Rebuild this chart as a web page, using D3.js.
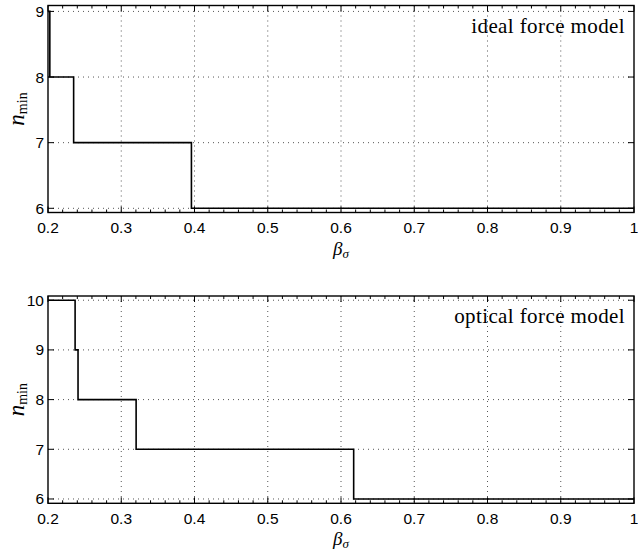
<!DOCTYPE html>
<html>
<head>
<meta charset="utf-8">
<script src="https://cdn.jsdelivr.net/npm/d3@7"></script>
<style>
  body { margin: 0; background: #fff; }
  svg { display: block; }
</style>
</head>
<body>
<div id="chart"></div>
<script>
// data
const xTicks = [0.2, 0.3, 0.4, 0.5, 0.6, 0.7, 0.8, 0.9, 1];
const idealBeta = [0.2, 0.2025, 0.235, 0.3958, 1.0];
const idealN = [9, 8, 7, 6, 6];
const idealTicks = [6, 7, 8, 9];
const opticalBeta = [0.2, 0.237, 0.241, 0.3203, 0.6173, 1.0];
const opticalN = [10, 9, 8, 7, 6, 6];
const opticalTicks = [6, 7, 8, 9, 10];

const width = 638;
const height = 551;

const svg = d3.select('#chart')
  .append('svg')
  .attr('width', width)
  .attr('height', height);

function drawPanel(opts) {
  const { top, bottom, yDomain, yTicks, xs, ys, label } = opts;
  const left = 48;
  const right = 634;

  const x = d3.scaleLinear().domain([0.2, 1]).range([left, right]);
  const y = d3.scaleLinear().domain(yDomain).range([bottom, top]);

  const g = svg.append('g');

  // dotted grid
  g.append('g')
    .selectAll('line')
    .data(xTicks.slice(1, -1))
    .join('line')
    .attr('x1', (d) => x(d)).attr('x2', (d) => x(d))
    .attr('y1', top).attr('y2', bottom)
    .attr('stroke', '#555')
    .attr('stroke-width', 1)
    .attr('stroke-dasharray', '1,4');
  g.append('g')
    .selectAll('line')
    .data(yTicks)
    .join('line')
    .attr('x1', left).attr('x2', right)
    .attr('y1', (d) => y(d)).attr('y2', (d) => y(d))
    .attr('stroke', '#555')
    .attr('stroke-width', 1)
    .attr('stroke-dasharray', '1,4');

  // ticks, inward; minor x ticks every 0.02
  const minor = d3.range(0.22, 1.0, 0.02).filter((v) => Math.abs(v * 10 - Math.round(v * 10)) > 0.01);
  const tickG = g.append('g').attr('stroke', '#000').attr('stroke-width', 1);
  minor.forEach((v) => {
    tickG.append('line').attr('x1', x(v)).attr('x2', x(v)).attr('y1', bottom).attr('y2', bottom - 3);
    tickG.append('line').attr('x1', x(v)).attr('x2', x(v)).attr('y1', top).attr('y2', top + 3);
  });
  xTicks.forEach((v) => {
    tickG.append('line').attr('x1', x(v)).attr('x2', x(v)).attr('y1', bottom).attr('y2', bottom - 6);
    tickG.append('line').attr('x1', x(v)).attr('x2', x(v)).attr('y1', top).attr('y2', top + 6);
  });
  yTicks.forEach((v) => {
    tickG.append('line').attr('x1', left).attr('x2', left + 6).attr('y1', y(v)).attr('y2', y(v));
    tickG.append('line').attr('x1', right).attr('x2', right - 6).attr('y1', y(v)).attr('y2', y(v));
  });

  // data line
  const pts = xs.map((v, i) => [v, ys[i]]);
  g.append('path')
    .datum(pts)
    .attr('fill', 'none')
    .attr('stroke', '#000')
    .attr('stroke-width', 1.6)
    .attr('d', d3.line()
      .x((d) => x(d[0]))
      .y((d) => y(d[1]))
      .curve(d3.curveStepAfter));

  // frame
  g.append('rect')
    .attr('x', left).attr('y', top)
    .attr('width', right - left).attr('height', bottom - top)
    .attr('fill', 'none')
    .attr('stroke', '#000')
    .attr('stroke-width', 1.4);

  // tick labels
  g.append('g')
    .selectAll('text')
    .data(xTicks)
    .join('text')
    .attr('x', (d) => x(d))
    .attr('y', bottom + 20.5)
    .attr('text-anchor', 'middle')
    .attr('font-family', 'Liberation Sans, Arial, sans-serif')
    .attr('font-size', 15.5)
    .text((d) => (d === 1 ? '1' : d3.format('.1f')(d)));
  g.append('g')
    .selectAll('text')
    .data(yTicks)
    .join('text')
    .attr('x', left - 4)
    .attr('y', (d) => y(d) + 5.5)
    .attr('text-anchor', 'end')
    .attr('font-family', 'Liberation Sans, Arial, sans-serif')
    .attr('font-size', 15.5)
    .text((d) => d);

  // x axis label
  const xl = g.append('text')
    .attr('x', (left + right) / 2)
    .attr('y', bottom + 42)
    .attr('text-anchor', 'middle')
    .attr('font-family', 'Liberation Serif, serif')
    .attr('font-style', 'italic')
    .attr('font-size', 19);
  xl.append('tspan').text('β');
  xl.append('tspan').attr('font-size', 13).attr('dy', 3).text('σ');

  // y axis label
  const yl = g.append('text')
    .attr('transform', `translate(24,${(top + bottom) / 2}) rotate(-90)`)
    .attr('text-anchor', 'middle')
    .attr('font-family', 'Liberation Serif, serif')
    .attr('font-size', 23);
  yl.append('tspan').attr('font-style', 'italic').text('n');
  yl.append('tspan').attr('font-size', 14).attr('dy', 3).text('min');

  // annotation
  g.append('text')
    .attr('x', 625)
    .attr('y', top + 27)
    .attr('text-anchor', 'end')
    .attr('font-family', 'Liberation Serif, serif')
    .attr('font-size', 21)
    .attr('letter-spacing', 0.4)
    .text(label);
}

drawPanel({
  top: 5.5, bottom: 212.5, yDomain: [5.936, 9.09], yTicks: idealTicks,
  xs: idealBeta, ys: idealN, label: 'ideal force model',
});
drawPanel({
  top: 296, bottom: 503.3, yDomain: [5.913, 10.085], yTicks: opticalTicks,
  xs: opticalBeta, ys: opticalN, label: 'optical force model',
});
</script>
</body>
</html>
